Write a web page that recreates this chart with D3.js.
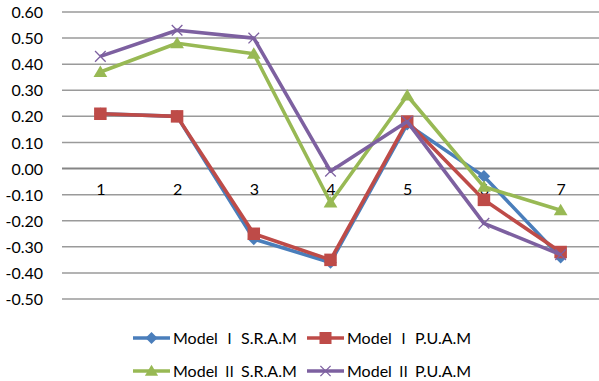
<!DOCTYPE html>
<html>
<head>
<meta charset="utf-8">
<script src="https://cdn.jsdelivr.net/npm/d3@7"></script>
<style>
  html, body { margin: 0; padding: 0; background: #fff; }
  svg { display: block; }
  text { font-family: Lato, "Open Sans", "Noto Sans", sans-serif; fill: #000; }
</style>
</head>
<body>
<svg id="chart" width="599" height="381"></svg>
<script>
// Categories along the x axis
const categories = ["1", "2", "3", "4", "5", "6", "7"];

// Series values
const sramModel1 = [0.21, 0.20, -0.27, -0.36, 0.17, -0.03, -0.34];
const puamModel1 = [0.21, 0.20, -0.25, -0.35, 0.18, -0.12, -0.32];
const sramModel2 = [0.37, 0.48, 0.44, -0.13, 0.28, -0.07, -0.16];
const puamModel2 = [0.43, 0.53, 0.50, -0.01, 0.18, -0.21, -0.33];

// Y tick values
const yTicks = [0.6, 0.5, 0.4, 0.3, 0.2, 0.1, 0, -0.1, -0.2, -0.3, -0.4, -0.5];

// Legend names split into model part, roman numeral and measure
const series = [
  { model: "Model", numeral: "Ⅰ", measure: "S.R.A.M", values: sramModel1, color: "#4A7EBB", marker: "diamond" },
  { model: "Model", numeral: "Ⅰ", measure: "P.U.A.M", values: puamModel1, color: "#BE4B48", marker: "square" },
  { model: "Model", numeral: "Ⅱ", measure: "S.R.A.M", values: sramModel2, color: "#98B954", marker: "triangle" },
  { model: "Model", numeral: "Ⅱ", measure: "P.U.A.M", values: puamModel2, color: "#7D60A0", marker: "cross" }
];

const svg = d3.select("#chart");
const plot = { left: 62, right: 599, top: 12, bottom: 299 };

const x = d3.scalePoint().domain(categories)
  .range([plot.left, plot.right]).padding(0.5);
const y = d3.scaleLinear().domain([-0.5, 0.6]).range([plot.bottom, plot.top]);

// Horizontal gridlines
svg.append("g").selectAll("line").data(yTicks).join("line")
  .attr("x1", plot.left).attr("x2", plot.right)
  .attr("y1", d => y(d)).attr("y2", d => y(d))
  .attr("stroke", d => d === 0 ? "#858585" : "#9a9a9a")
  .attr("stroke-width", d => d === 0 ? 2 : 1.5);

// Y axis labels
const fmt = d3.format(".2f");
const yAxis = d3.axisLeft(y).tickValues(yTicks).tickSize(0).tickPadding(0);
const yg = svg.append("g").attr("transform", `translate(43,0)`).call(yAxis);
yg.select(".domain").remove();
yg.selectAll("text").attr("font-size", 16).attr("font-family", "Lato, sans-serif").attr("dy", "0.35em")
  .text(d => d < 0 ? "-" + fmt(-d) : fmt(d));

// Category labels sitting just under the zero line
const xAxis = d3.axisBottom(x).tickSize(0).tickPadding(0);
const xg = svg.append("g").attr("transform", `translate(0,${y(0)})`).call(xAxis);
xg.select(".domain").remove();
xg.selectAll("text").attr("font-size", 16).attr("font-family", "Lato, sans-serif").attr("y", 21).attr("dy", "0.35em");

// Marker shapes
function drawMarker(g, type, color, size) {
  const h = size / 2;
  if (type === "diamond") {
    g.append("path").attr("d", `M0,${-h}L${h},0L0,${h}L${-h},0Z`).attr("fill", color);
  } else if (type === "square") {
    g.append("rect").attr("x", -h).attr("y", -h).attr("width", size).attr("height", size).attr("fill", color);
  } else if (type === "triangle") {
    g.append("path").attr("d", `M0,${-h * 1.05}L${h * 1.1},${h * 0.8}L${-h * 1.1},${h * 0.8}Z`).attr("fill", color);
  } else if (type === "cross") {
    const s = h * 0.85;
    g.append("path").attr("d", `M${-s},${-s}L${s},${s}M${-s},${s}L${s},${-s}`)
      .attr("stroke", color).attr("stroke-width", 1.3).attr("fill", "none");
  }
}

const line = d3.line().x((d, i) => x(categories[i])).y(d => y(d));

series.forEach(s => {
  const g = svg.append("g");
  g.append("path").datum(s.values).attr("d", line)
    .attr("fill", "none").attr("stroke", s.color).attr("stroke-width", 3.6)
    .attr("stroke-linejoin", "round");
  s.values.forEach((v, i) => {
    const m = g.append("g").attr("transform", `translate(${x(categories[i])},${y(v)})`);
    drawMarker(m, s.marker, s.color, 12.5);
  });
});

// Legend
const legendPos = [[133, 338], [307, 338], [133, 371], [307, 371]];
series.forEach((s, i) => {
  const [lx, ly] = legendPos[i];
  const g = svg.append("g").attr("transform", `translate(${lx},${ly})`);
  g.append("line").attr("x1", 0).attr("x2", 37).attr("y1", 0).attr("y2", 0)
    .attr("stroke", s.color).attr("stroke-width", 3.6);
  const m = g.append("g").attr("transform", "translate(18.5,0)");
  drawMarker(m, s.marker, s.color, 12);
  const t = g.append("text").attr("x", 40).attr("y", 0).attr("dy", "0.35em").attr("font-size", 16)
    .attr("xml:space", "preserve");
  t.append("tspan").text(s.model + " ");
  t.append("tspan").attr("font-family", "'Noto Sans CJK SC', sans-serif").attr("font-size", 15).text(s.numeral);
  t.append("tspan").text(" " + s.measure);
});
</script>
</body>
</html>
